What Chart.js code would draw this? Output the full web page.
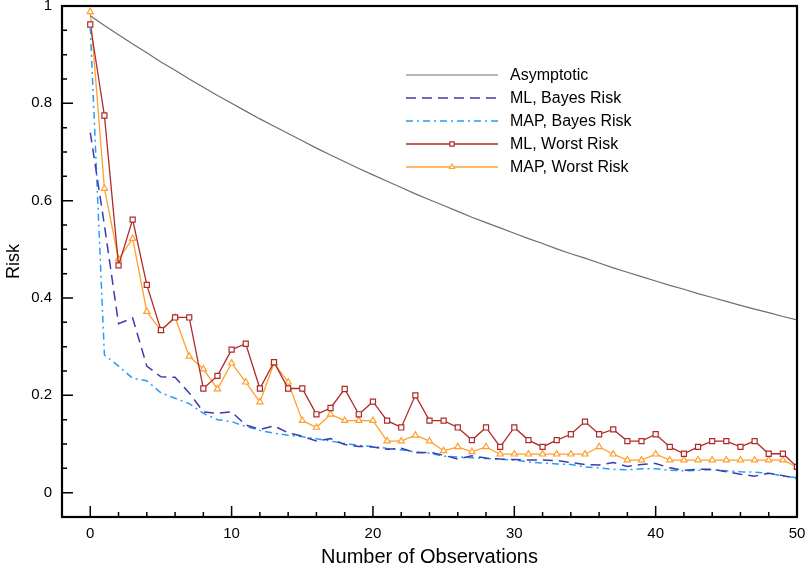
<!DOCTYPE html>
<html>
<head>
<meta charset="utf-8">
<script src="https://cdn.jsdelivr.net/npm/chart.js@4"></script>
<style>
  body { margin: 0; background: #fff; }
</style>
</head>
<body>
<canvas id="canvas" width="812" height="569"></canvas>
<script>
const observations = [0, 1, 2, 3, 4, 5, 6, 7, 8, 9, 10, 11, 12, 13, 14, 15, 16, 17, 18, 19, 20,
    21, 22, 23, 24, 25, 26, 27, 28, 29, 30, 31, 32, 33, 34, 35, 36, 37, 38, 39, 40,
    41, 42, 43, 44, 45, 46, 47, 48, 49, 50];

const asymptotic = [0.980, 0.960, 0.941, 0.922, 0.904, 0.885, 0.868, 0.850, 0.833, 0.816, 0.800,
    0.784, 0.768, 0.753, 0.738, 0.723, 0.708, 0.694, 0.680, 0.666, 0.653,
    0.640, 0.627, 0.614, 0.602, 0.590, 0.578, 0.566, 0.555, 0.544, 0.533,
    0.522, 0.512, 0.501, 0.491, 0.482, 0.472, 0.462, 0.453, 0.444, 0.435,
    0.426, 0.418, 0.409, 0.401, 0.393, 0.385, 0.377, 0.370, 0.362, 0.355];

const mlBayes = [0.740, 0.550, 0.347, 0.359, 0.260, 0.238, 0.237, 0.205, 0.166, 0.163, 0.166,
    0.139, 0.130, 0.137, 0.123, 0.116, 0.106, 0.111, 0.099, 0.095, 0.094,
    0.089, 0.091, 0.082, 0.083, 0.077, 0.069, 0.076, 0.071, 0.069, 0.068,
    0.067, 0.067, 0.066, 0.062, 0.058, 0.057, 0.062, 0.054, 0.058, 0.060,
    0.051, 0.046, 0.048, 0.048, 0.043, 0.038, 0.034, 0.040, 0.035, 0.029];

const mapBayes = [0.957, 0.283, 0.260, 0.235, 0.230, 0.205, 0.194, 0.183, 0.163, 0.150, 0.146,
    0.136, 0.128, 0.122, 0.118, 0.115, 0.111, 0.106, 0.101, 0.097, 0.095,
    0.091, 0.088, 0.084, 0.081, 0.075, 0.073, 0.072, 0.070, 0.069, 0.067,
    0.063, 0.061, 0.059, 0.058, 0.053, 0.051, 0.048, 0.047, 0.049, 0.049,
    0.046, 0.045, 0.046, 0.047, 0.045, 0.043, 0.042, 0.040, 0.034, 0.031];

const mlWorst = [0.962, 0.775, 0.467, 0.561, 0.427, 0.334, 0.360, 0.360, 0.214, 0.240, 0.294,
    0.306, 0.214, 0.268, 0.214, 0.214, 0.161, 0.174, 0.213, 0.161, 0.187,
    0.148, 0.134, 0.200, 0.148, 0.148, 0.134, 0.108, 0.134, 0.094, 0.134,
    0.108, 0.094, 0.108, 0.120, 0.146, 0.120, 0.130, 0.106, 0.106, 0.120,
    0.094, 0.080, 0.094, 0.106, 0.106, 0.094, 0.106, 0.080, 0.080, 0.053];

const mapWorst = [0.988, 0.625, 0.480, 0.522, 0.372, 0.333, 0.360, 0.280, 0.254, 0.213, 0.266,
    0.227, 0.186, 0.266, 0.227, 0.148, 0.134, 0.161, 0.148, 0.148, 0.148,
    0.106, 0.106, 0.118, 0.106, 0.086, 0.094, 0.084, 0.094, 0.079, 0.079,
    0.079, 0.079, 0.079, 0.079, 0.079, 0.094, 0.079, 0.067, 0.067, 0.079,
    0.067, 0.067, 0.067, 0.067, 0.067, 0.067, 0.067, 0.067, 0.067, 0.053];

const xTickValues = [0, 10, 20, 30, 40, 50];
const yTickValues = [0, 0.2, 0.4, 0.6, 0.8, 1];

const FONT = "'Liberation Sans', Arial, Helvetica, sans-serif";

function points(series) {
    return observations.map((x, i) => ({ x: x, y: series[i] }));
}

// frame + inward ticks, plus the legend box inside the plot
const framePlugin = {
    id: 'frame',
    afterDatasetsDraw(chart) {
        const ctx = chart.ctx;
        const { left, right, top, bottom } = chart.chartArea;
        const x = chart.scales.x;
        const y = chart.scales.y;
        ctx.save();
        ctx.strokeStyle = '#000';
        ctx.lineWidth = 1.5;
        ctx.beginPath();
        for (let v = 0; v <= 50; v += 2) {
            const px = x.getPixelForValue(v);
            const len = xTickValues.includes(v) ? 11 : 5;
            ctx.moveTo(px, bottom);
            ctx.lineTo(px, bottom - len);
        }
        for (let i = 0; i <= 20; i++) {
            const py = y.getPixelForValue(i * 0.05);
            const len = i % 4 === 0 ? 11 : 5;
            ctx.moveTo(left, py);
            ctx.lineTo(left + len, py);
        }
        ctx.stroke();
        ctx.lineWidth = 2.2;
        ctx.strokeRect(left, top, right - left, bottom - top);

        // legend
        const lx0 = 406, lx1 = 498, tx = 510;
        let ly = 75;
        ctx.font = '16px ' + FONT;
        ctx.textBaseline = 'middle';
        chart.data.datasets.forEach(ds => {
            ctx.save();
            ctx.strokeStyle = ds.borderColor;
            ctx.lineWidth = ds.borderWidth;
            ctx.setLineDash(ds.borderDash || []);
            ctx.beginPath();
            ctx.moveTo(lx0, ly);
            ctx.lineTo(lx1, ly);
            ctx.stroke();
            ctx.restore();
            if (ds.pointRadius > 0) {
                ctx.save();
                ctx.fillStyle = '#fff';
                ctx.strokeStyle = ds.borderColor;
                ctx.lineWidth = 1.2;
                Chart.helpers.drawPoint(ctx, {
                    pointStyle: ds.pointStyle,
                    radius: 3,
                    borderWidth: 1.2
                }, (lx0 + lx1) / 2, ly);
                ctx.restore();
            }
            ctx.fillStyle = '#000';
            ctx.fillText(ds.label, tx, ly + 1);
            ly += 23;
        });
        ctx.restore();
    }
};

const ctx = document.getElementById('canvas').getContext('2d');
const myChart = new Chart(ctx, {
    type: 'line',
    data: {
        datasets: [{
            label: 'Asymptotic',
            data: points(asymptotic),
            borderColor: '#6e6e6e',
            borderWidth: 1.2,
            pointRadius: 0
        }, {
            label: 'ML, Bayes Risk',
            data: points(mlBayes),
            borderColor: '#3b3bb3',
            borderWidth: 1.5,
            borderDash: [10, 6],
            pointRadius: 0
        }, {
            label: 'MAP, Bayes Risk',
            data: points(mapBayes),
            borderColor: '#2b9cf2',
            borderWidth: 1.5,
            borderDash: [7, 4, 2, 4],
            pointRadius: 0
        }, {
            label: 'ML, Worst Risk',
            data: points(mlWorst),
            borderColor: '#b02a2a',
            borderWidth: 1.3,
            pointStyle: 'rect',
            pointRadius: 3.6,
            pointBorderWidth: 1.2,
            pointBackgroundColor: '#fff'
        }, {
            label: 'MAP, Worst Risk',
            data: points(mapWorst),
            borderColor: '#ffa030',
            borderWidth: 1.3,
            pointStyle: 'triangle',
            pointRadius: 3.6,
            pointBorderWidth: 1.2,
            pointBackgroundColor: '#fff'
        }]
    },
    options: {
        responsive: false,
        animation: false,
        events: [],
        layout: { padding: { left: 0, right: 15, top: 6, bottom: 0 } },
        elements: { line: { tension: 0 } },
        plugins: {
            legend: { display: false },
            tooltip: { enabled: false }
        },
        scales: {
            x: {
                type: 'linear',
                min: -2,
                max: 50,
                grid: { display: false, drawTicks: false },
                border: { display: false },
                afterBuildTicks: scale => { scale.ticks = xTickValues.map(v => ({ value: v })); },
                afterFit: scale => {
                    scale.height = 52;
                    scale.paddingLeft = 0;
                    scale.paddingRight = 0;
                },
                ticks: {
                    color: '#000',
                    padding: 8,
                    font: { family: FONT, size: 15 },
                    maxRotation: 0
                },
                title: {
                    display: true,
                    text: 'Number of Observations',
                    color: '#000',
                    font: { family: FONT, size: 20 },
                    padding: { top: 0, bottom: 0 }
                }
            },
            y: {
                type: 'linear',
                min: -0.05,
                max: 1,
                grid: { display: false, drawTicks: false },
                border: { display: false },
                afterBuildTicks: scale => { scale.ticks = yTickValues.map(v => ({ value: v })); },
                afterFit: scale => {
                    scale.width = 62;
                    scale.paddingTop = 0;
                    scale.paddingBottom = 0;
                },
                ticks: {
                    color: '#000',
                    padding: 10,
                    font: { family: FONT, size: 15 },
                    callback: v => (v === 0 || v === 1) ? String(v) : v.toFixed(1)
                },
                title: {
                    display: true,
                    text: 'Risk',
                    color: '#000',
                    font: { family: FONT, size: 18 },
                    padding: { top: 3, bottom: 0 }
                }
            }
        }
    },
    plugins: [framePlugin]
});
</script>
</body>
</html>
